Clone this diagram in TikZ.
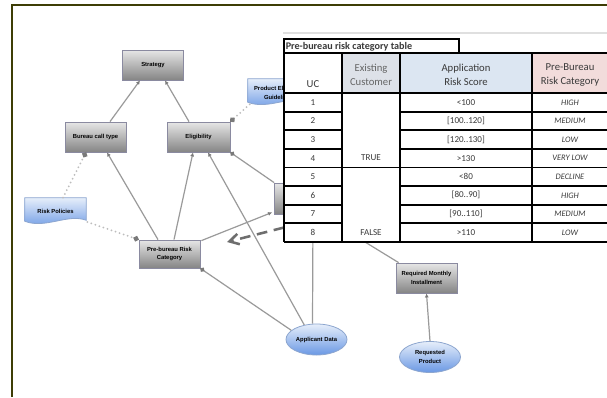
\documentclass[tikz,border=0pt]{standalone}
\usepackage{fontspec}
\setmainfont{Carlito}
\newfontfamily\arialf{Liberation Sans}
\usetikzlibrary{arrows.meta,calc,shapes.geometric}
\definecolor{framec}{HTML}{3D3D05}
\definecolor{connc}{HTML}{9A9A9A}
\definecolor{dotc}{HTML}{BDBDBD}
\definecolor{tipc}{HTML}{7A7A7A}
\definecolor{hdrblue}{HTML}{DCE6F2}
\definecolor{hdrgrey}{HTML}{DDE1E8}
\definecolor{hdrpink}{HTML}{F2DCDB}
\definecolor{boxtop}{HTML}{E6E6E6}
\definecolor{boxbot}{HTML}{858585}
\definecolor{boxedge}{HTML}{8A8AA0}
\definecolor{bluetop}{HTML}{E6EEFA}
\definecolor{bluebot}{HTML}{6A98E4}
\definecolor{blueedge}{HTML}{8DA6CF}
\definecolor{tabtext}{HTML}{3A3A3A}
\definecolor{dashc}{HTML}{6E6E6E}
\tikzset{
  gbox/.style={rectangle, draw=boxedge, line width=0.6pt, top color=boxtop, bottom color=boxbot,
    minimum width=45.75pt, minimum height=22.5pt, inner sep=1pt, align=center,
    font=\arialf\bfseries\fontsize{4.4}{6.5}\selectfont},
  bubble/.style={ellipse, draw=blueedge, line width=0.6pt, top color=bluetop, bottom color=bluebot,
    minimum width=45.75pt, minimum height=23.25pt, inner sep=0pt, align=center,
    font=\arialf\bfseries\fontsize{4.4}{6.5}\selectfont},
  docbase/.style={rectangle, minimum width=45.75pt, minimum height=16.5pt, inner sep=0pt},
  docshade/.style={draw=blueedge, line width=0.6pt, top color=bluetop, bottom color=bluebot},
  doctext/.style={align=center, inner sep=0pt, font=\arialf\bfseries\fontsize{4.4}{6.5}\selectfont},
  conn/.style={draw=connc, line width=0.9pt, -{Latex[length=3pt,width=3pt,color=tipc]}},
  connplain/.style={draw=connc, line width=0.9pt},
  connball/.style={draw=connc, line width=0.9pt, -{Circle[length=3.5pt,color=tipc]}},
  dotline/.style={draw=dotc, line width=1.5pt, dash pattern=on 0pt off 3.2pt, line cap=round,
    -{Circle[length=4pt,color=tipc]}},
  dasharrow/.style={draw=dashc, line width=1.9pt, dash pattern=on 8pt off 5pt,
    -{Straight Barb[length=7pt,width=8pt]}},
  tline/.style={draw=black, line width=1.1pt},
  hline/.style={draw=black, line width=1.4pt},
  ttext/.style={inner sep=0pt, text=tabtext, font=\fontsize{6.8}{9}\selectfont},
  tital/.style={inner sep=0pt, text=tabtext, font=\itshape\fontsize{6.3}{8}\selectfont},
  thead/.style={inner sep=0pt, text=tabtext, align=center, font=\fontsize{8}{10.5}\selectfont},
}
\begin{document}
\begin{tikzpicture}[x=0.75pt,y=-0.75pt]
\useasboundingbox (0,0) rectangle (607,397);
\fill[white] (0,0) rectangle (607,397);
\draw[framec, line width=1.6pt] (12,397) -- (12,5) -- (607,5);
\draw[gray!25, line width=0.8pt] (283,33) -- (607,33);

% ---- diagram nodes ----
\node[gbox] (strat) at (153,65) {Strategy};
\node[gbox] (bct) at (95.5,137) {Bureau call type};
\node[gbox, minimum width=47.25pt] (elig) at (198.5,137) {Eligibility};
\node[gbox, minimum height=21pt] (pbrc) at (169.5,254) {Pre-bureau Risk\\Category};
\node[gbox, minimum height=23.25pt] (hid) at (305,198.5) {};
\node[gbox] (rmi) at (426.5,278) {Required Monthly\\Installment};
\node[bubble] (ad) at (316.5,339.5) {Applicant Data};
\node[bubble] (rq) at (430,357) {Requested\\Product};

% document shapes
\node[docbase] (rp) at (55.5,209) {};
\shadedraw[docshade] (rp.north west) -- (rp.north east) -- (rp.south east)
  .. controls ($(rp.south)+(12,-7)$) and ($(rp.south)+(-10,9)$) .. ($(rp.south west)+(0,1)$) -- cycle;
\node[doctext] (rpt) at ($(rp)+(0,2)$) {Risk Policies};
\node[docbase, minimum width=46.5pt] (peg) at (279,90) {};
\shadedraw[docshade] (peg.north west) -- (peg.north east) -- (peg.south east)
  .. controls ($(peg.south)+(12,-7)$) and ($(peg.south)+(-10,9)$) .. ($(peg.south west)+(0,1)$) -- cycle;
\node[doctext] (pegt) at ($(peg)+(0,3)$) {Product Eligibility\\Guidelines};

% ---- connectors ----
\draw[conn] ($(bct.north)+(14.5,0)$) -- ($(strat.south)+(-13,0)$);
\draw[conn] ($(elig.north)+(-9.5,0)$) -- ($(strat.south)+(12,0)$);
\draw[conn] ($(pbrc.north)+(-11.5,0)$) -- ($(bct.south)+(11.5,0)$);
\draw[conn] ($(pbrc.north)+(4.5,0)$) -- ($(elig.south)+(-5.5,0)$);
\draw[conn] (ad.130) -- ($(elig.south)+(9.5,0)$);
\draw[connplain] ($(ad.north)+(-4,0)$) -- ($(hid.south)+(8,0)$);
\draw[connplain] ($(rmi.north west)+(3,0)$) -- ($(hid.south)+(15,0)$);
\draw[conn] (rq.north) -- (rmi.south);
\draw[connball] (hid.north west) -- (elig.south east);
\draw[conn] ($(pbrc.north east)+(1,1)$) -- ($(hid.south west)+(-2,-2)$);
\draw[connball] (ad.160) -- (pbrc.south east);
\draw[dotline] ($(peg.south west)+(2,3)$) -- (elig.north east);
\draw[dotline] ($(rp.north)+(7.5,0)$) -- ($(bct.south)+(-9.5,0)$);
\draw[dotline] ($(rp.east)+(1,13)$) -- (pbrc.north west);

\coordinate (dstart) at (284,227.5);
\coordinate (dend) at (227,242);
\draw[dasharrow] (dstart) -- (dend);

% ---- table ----
\fill[white] (284,39) rectangle (459,53);
\draw[tline] (284,39) rectangle (459,53);
\node[anchor=west, inner sep=0pt, text=tabtext, font=\bfseries\fontsize{7.6}{10}\selectfont] (ttl) at (285.5,46.5) {Pre-bureau risk category table};
\fill[white] (284,53) rectangle (609,241.8);
\fill[hdrgrey] (342,53) rectangle (400,93);
\fill[hdrblue] (400,53) rectangle (532,93);
\fill[hdrpink] (532,53) rectangle (609,93);
\draw[tline] (609,53) -- (284,53) -- (284,241.8);
\draw[hline] (284,241.8) -- (609,241.8);
\draw[tline] (342,53) -- (342,241.8);
\draw[tline] (400,53) -- (400,241.8);
\draw[tline] (532,53) -- (532,241.8);
\draw[tline] (284,93) -- (609,93);
\foreach \r in {111.6,130.2,148.8,186,204.6,223.2} {
  \draw[hline] (284,\r) -- (342,\r);
  \draw[hline] (400,\r) -- (609,\r);
}
\draw[tline] (284,167.4) -- (609,167.4);

\node[thead] (huc) at (313,84.5) {UC};
\node[thead, text=gray!80!black] (hex) at (371,75) {Existing\\Customer};
\node[thead] (hap) at (466,75) {Application\\Risk Score};
\node[thead] (hpb) at (570,75) {Pre-Bureau\\Risk Category};

\node[ttext] (u1) at (313,102.3) {1};
\node[ttext] (u2) at (313,120.9) {2};
\node[ttext] (u3) at (313,139.5) {3};
\node[ttext] (u4) at (313,158.1) {4};
\node[ttext] (u5) at (313,176.7) {5};
\node[ttext] (u6) at (313,195.3) {6};
\node[ttext] (u7) at (313,213.9) {7};
\node[ttext] (u8) at (313,232.5) {8};
\node[ttext] (etrue) at (371,158.1) {TRUE};
\node[ttext] (efalse) at (371,232.5) {FALSE};
\node[ttext] (s1) at (466,102.3) {<100};
\node[ttext] (s2) at (466,120.9) {[100..120]};
\node[ttext] (s3) at (466,139.5) {[120..130]};
\node[ttext] (s4) at (466,158.1) {>130};
\node[ttext] (s5) at (466,176.7) {<80};
\node[ttext] (s6) at (466,195.3) {[80..90]};
\node[ttext] (s7) at (466,213.9) {[90..110]};
\node[ttext] (s8) at (466,232.5) {>110};
\node[tital] (c1) at (570,102.3) {HIGH};
\node[tital] (c2) at (570,120.9) {MEDIUM};
\node[tital] (c3) at (570,139.5) {LOW};
\node[tital] (c4) at (570,158.1) {VERY LOW};
\node[tital] (c5) at (570,176.7) {DECLINE};
\node[tital] (c6) at (570,195.3) {HIGH};
\node[tital] (c7) at (570,213.9) {MEDIUM};
\node[tital] (c8) at (570,232.5) {LOW};
\end{tikzpicture}
\end{document}
